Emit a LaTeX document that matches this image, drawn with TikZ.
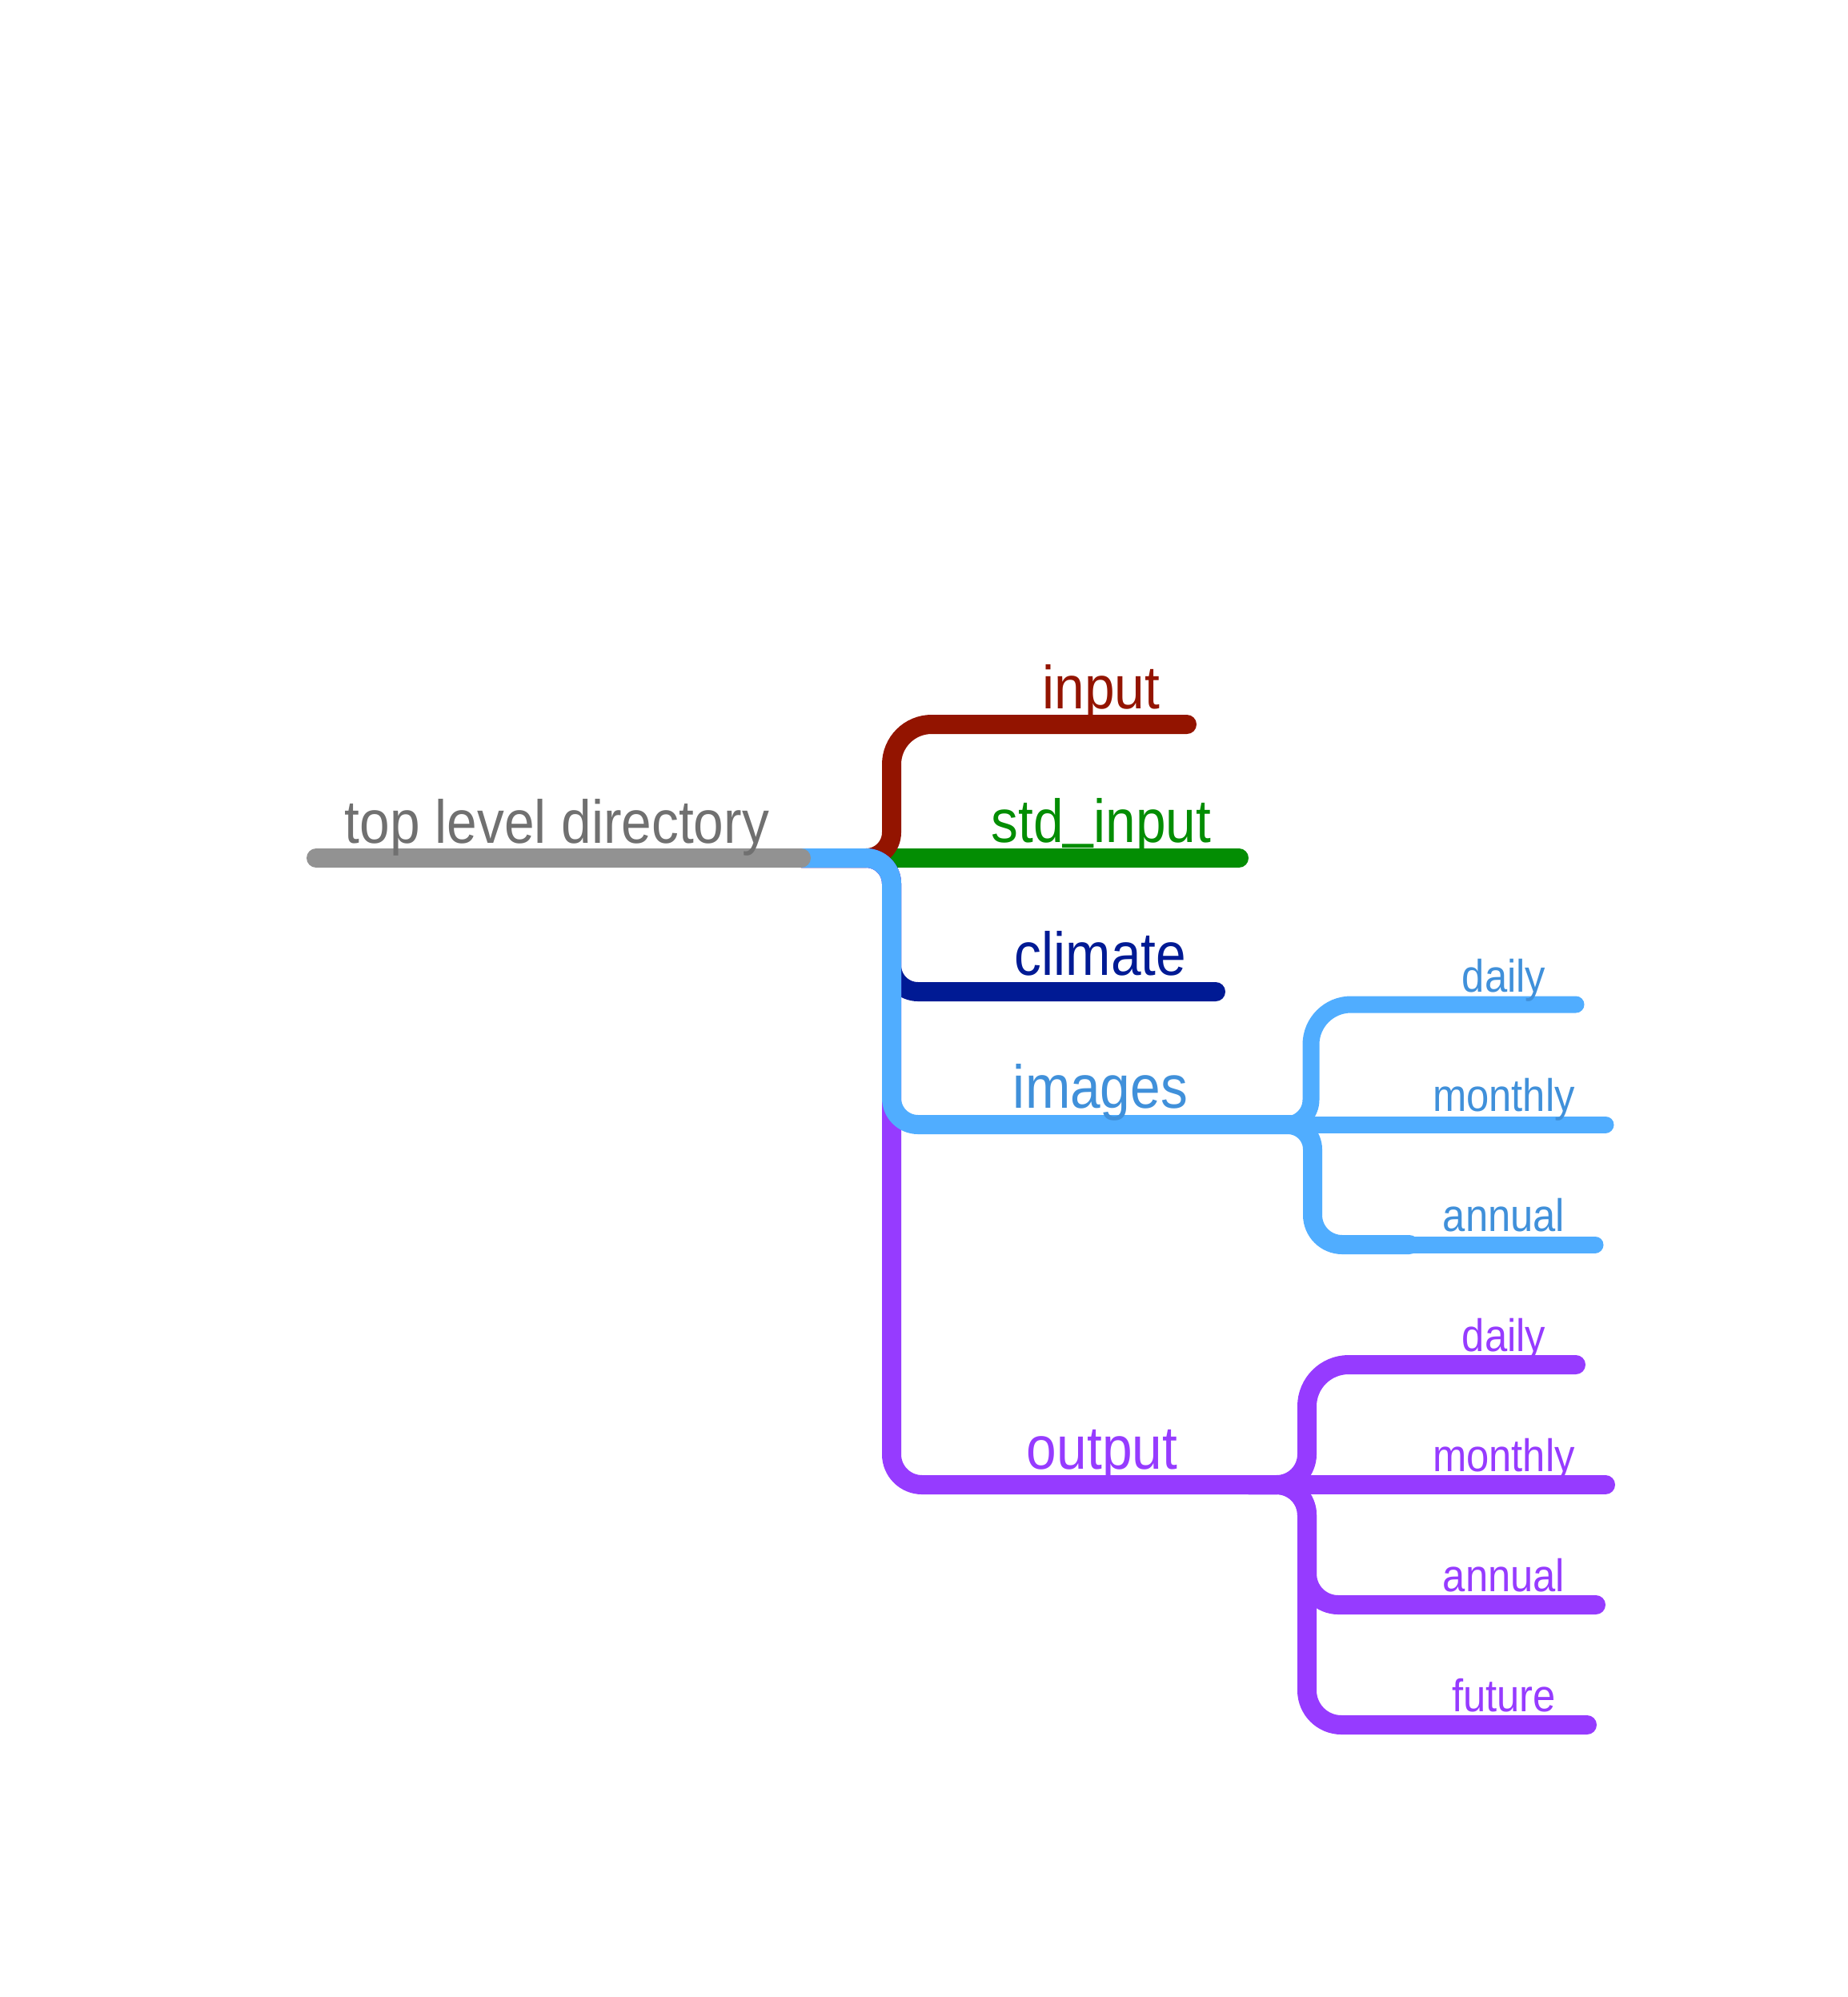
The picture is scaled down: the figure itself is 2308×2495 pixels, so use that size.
\documentclass[tikz,border=0pt]{standalone}
\usepackage{fontspec}
\setmainfont[FakeStretch=0.89]{Liberation Sans}

\definecolor{rootgray}{HTML}{929292}
\definecolor{roottext}{HTML}{707070}
\definecolor{inred}{HTML}{931400}
\definecolor{stdgreen}{HTML}{038D03}
\definecolor{climblue}{HTML}{001A94}
\definecolor{imgblue}{HTML}{50ADFF}
\definecolor{imgtext}{HTML}{4090DA}
\definecolor{outpurple}{HTML}{963BFF}

\tikzset{
    branch/.style={line width=24pt, line cap=round},
    twig/.style={line width=21pt, line cap=round},
    bigname/.style={anchor=base, inner sep=0pt, font=\fontsize{76}{80}\selectfont},
    smallname/.style={anchor=base, inner sep=0pt, font=\fontsize{57}{60}\selectfont},
}

\begin{document}
\begin{tikzpicture}[x=1pt, y=-1pt]
        \useasboundingbox (0,0) rectangle (2308,2495);

        % ends and knees of the branches
        \coordinate (rootL) at (395,1072);
        \coordinate (rootR) at (1001,1072);
        \coordinate (inputK) at (1114,905);
        \coordinate (inputR) at (1483,905);
        \coordinate (stdR) at (1548,1072);
        \coordinate (climK) at (1114,1239);
        \coordinate (climR) at (1519,1239);
        \coordinate (imgK) at (1114,1405);
        \coordinate (imgJ) at (1560,1405);
        \coordinate (outK) at (1114,1855);
        \coordinate (outJ) at (1560,1855);

        \coordinate (bdailyK) at (1638,1255);
        \coordinate (bdailyR) at (1969,1255);
        \coordinate (bmonthlyR) at (2006,1405);
        \coordinate (bannualK) at (1640,1555);
        \coordinate (bannualM) at (1761,1555);
        \coordinate (bannualR) at (1993,1555);

        \coordinate (pdailyK) at (1633,1705);
        \coordinate (pdailyR) at (1969,1705);
        \coordinate (pmonthlyR) at (2006,1855);
        \coordinate (pannualK) at (1633,2005);
        \coordinate (pannualR) at (1994,2005);
        \coordinate (pfutureK) at (1633,2155);
        \coordinate (pfutureR) at (1983,2155);

        % first level
        \draw[branch, stdgreen] (rootR) -- (stdR);
        \draw[branch, inred] (rootR) [rounded corners=32pt] -- (rootR -| inputK) [rounded corners=50pt] -- (inputK) -- (inputR);
        \draw[branch, climblue] (rootR) [rounded corners=32pt] -- (rootR -| climK) [rounded corners=33pt] -- (climK) -- (climR);
        \draw[branch, outpurple] (rootR) [rounded corners=32pt] -- (rootR -| outK) [rounded corners=38pt] -- (outK) -- (outJ);

        % output
        \draw[branch, outpurple] (outJ) [rounded corners=38pt] -- (outJ -| pdailyK) [rounded corners=52pt] -- (pdailyK) -- (pdailyR);
        \draw[branch, outpurple] (outJ) -- (pmonthlyR);
        \draw[branch, outpurple] (outJ) [rounded corners=38pt] -- (outJ -| pannualK) [rounded corners=39pt] -- (pannualK) -- (pannualR);
        \draw[branch, outpurple] (outJ) [rounded corners=38pt] -- (outJ -| pfutureK) [rounded corners=43pt] -- (pfutureK) -- (pfutureR);

        % images
        \draw[branch, imgblue] (rootR) [rounded corners=32pt] -- (rootR -| imgK) [rounded corners=33pt] -- (imgK) -- (imgJ);
        \draw[twig, imgblue] (imgJ) [rounded corners=31pt] -- (imgJ -| bdailyK) [rounded corners=50pt] -- (bdailyK) -- (bdailyR);
        \draw[twig, imgblue] (imgJ) -- (bmonthlyR);
        \draw[branch, imgblue] (imgJ) [rounded corners=31pt] -- (imgJ -| bannualK) [rounded corners=37pt] -- (bannualK) -- (bannualM);
        \draw[twig, imgblue] (bannualM) -- (bannualR);

        \draw[branch, rootgray] (rootL) -- (rootR);

        % labels
        \node[bigname, roottext] (top) at (696,1053) {top level directory};
        \node[bigname, inred] (input) at (1376,885) {input};
        \node[bigname, stdgreen] (std) at (1376,1052) {std\raisebox{8pt}{\_}input};
        \node[bigname, climblue] (climate) at (1375,1218) {climate};
        \node[bigname, imgtext] (images) at (1375,1384) {images};
        \node[bigname, outpurple] (output) at (1377,1835) {output};

        \foreach \n/\y/\t in {bdaily/1239/daily, bmonthly/1388/monthly, bannual/1538/annual}
            \node[smallname, imgtext] (\n) at (1879,\y) {\t};
        \foreach \n/\y/\t in {pdaily/1688/daily, pmonthly/1838/monthly, pannual/1988/annual, pfuture/2138/future}
            \node[smallname, outpurple] (\n) at (1879,\y) {\t};
    \end{tikzpicture}
\end{document}
